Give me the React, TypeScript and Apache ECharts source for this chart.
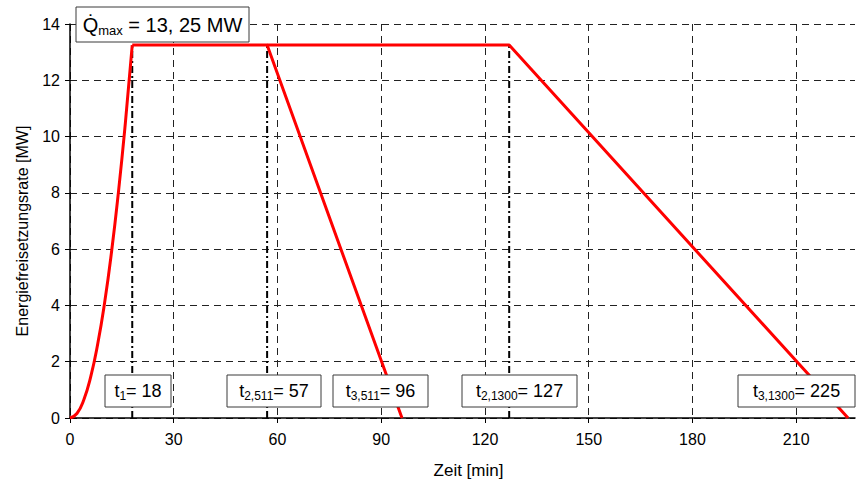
import React, { useEffect, useRef } from "react";
import * as echarts from "echarts";

// Growth phase (t²-type rise) read at 2-minute steps, in MW
const riseTimes = [0, 2, 4, 6, 8, 10, 12, 14, 16, 18];
const riseRates = [0, 0.16, 0.65, 1.47, 2.62, 4.09, 5.89, 8.02, 10.47, 13.25];

// Peak heat release rate and characteristic times [min]
const qMax = 13.25;
const tGrowthEnd = 18;
const tDecay511 = 57;
const tEnd511 = 96;
const tDecay1300 = 127;
const tEnd1300 = 225;

// Axis settings
const xMin = 0;
const xMax = 227;
const xStep = 30;
const yMin = 0;
const yMax = 14;
const yStep = 2;

// Annotation texts
const markerTimes = [tGrowthEnd, tDecay511, tDecay1300];
const timeSubscripts = ["1", "2,511", "3,511", "2,1300", "3,1300"];
const timeValues = [tGrowthEnd, tDecay511, tEnd511, tDecay1300, tEnd1300];

// Box layout (pixels) for the time annotations
const boxLeft = [105, 227, 333, 462, 738];
const boxWidth = [66, 94, 95, 115, 117];

const FONT = "'Liberation Sans', Arial, Helvetica, sans-serif";

function labelBox(x: number, y: number, w: number, h: number, text: string, rich: any) {
  return {
    type: "group",
    z: 100,
    children: [
      {
        type: "rect",
        shape: { x, y, width: w, height: h },
        style: { fill: "#ffffff", stroke: "#3a3a3a", lineWidth: 1 },
        z: 100,
      },
      {
        type: "text",
        x: x + w / 2,
        y: y + h / 2,
        z: 101,
        style: {
          text,
          rich,
          align: "center",
          verticalAlign: "middle",
          fill: "#000",
        },
      },
    ],
  };
}

export default function App() {
  const ref = useRef<HTMLDivElement>(null);

  useEffect(() => {
    if (!ref.current) return;
    const chart = echarts.init(ref.current, undefined, { renderer: "svg" });

    const risePoints = riseTimes.map((t, i) => [t, riseRates[i]]);

    const smallRich = {
      m: { fontSize: 18, fontFamily: FONT, lineHeight: 21, color: "#000" },
      s: { fontSize: 12, fontFamily: FONT, lineHeight: 8, verticalAlign: "bottom", color: "#000" },
    };
    const bigRich = {
      m: { fontSize: 20, fontFamily: FONT, lineHeight: 24, color: "#000" },
      s: { fontSize: 13, fontFamily: FONT, lineHeight: 10, verticalAlign: "bottom", color: "#000" },
    };

    const boxes: any[] = timeValues.map((v, i) =>
      labelBox(
        boxLeft[i],
        375,
        boxWidth[i],
        32,
        `{m|t}{s|${timeSubscripts[i]}}{m|= ${v}}`,
        smallRich
      )
    );
    boxes.push(
      labelBox(76, 7, 173, 35, `{m|Q\u0307}{s|max}{m| = 13, 25 MW}`, bigRich)
    );

    const markerSeries = markerTimes.map((t) => ({
      type: "line",
      data: [
        [t, 0],
        [t, qMax],
      ],
      symbol: "none",
      lineStyle: { color: "#000", width: 2, type: [7, 3, 2, 3] },
      z: 3,
      silent: true,
    }));

    const gridLine = { show: true, lineStyle: { color: "#222", width: 1, type: [7, 5] } };

    chart.setOption({
      animation: false,
      grid: { left: 70, top: 24, right: 1, bottom: 66, containLabel: false },
      xAxis: {
        type: "value",
        min: xMin,
        max: xMax,
        interval: xStep,
        name: "Zeit [min]",
        nameLocation: "middle",
        nameGap: 44,
        nameTextStyle: { fontFamily: FONT, fontSize: 17, color: "#000", padding: [0, 0, 0, 12] },
        axisLine: { show: true, lineStyle: { color: "#000", width: 1.5 } },
        axisTick: { show: true, inside: false, length: 5, lineStyle: { color: "#000" } },
        axisLabel: {
          fontFamily: FONT,
          fontSize: 16,
          color: "#000",
          margin: 13,
          showMaxLabel: false,
          formatter: (v: number) => (v % xStep === 0 ? String(v) : ""),
        },
        splitLine: { ...gridLine, showMaxLine: false },
      },
      yAxis: {
        type: "value",
        min: yMin,
        max: yMax,
        interval: yStep,
        name: "Energiefreisetzungsrate [MW]",
        nameLocation: "middle",
        nameGap: 40,
        nameRotate: 90,
        nameTextStyle: { fontFamily: FONT, fontSize: 16, color: "#000", padding: [0, 20, 0, 0] },
        axisLine: { show: true, lineStyle: { color: "#000", width: 1.5 } },
        axisTick: { show: true, inside: false, length: 5, lineStyle: { color: "#000" } },
        axisLabel: { fontFamily: FONT, fontSize: 16, color: "#000", margin: 10 },
        splitLine: gridLine,
      },
      series: [
        ...markerSeries,
        {
          type: "line",
          data: risePoints,
          smooth: true,
          symbol: "none",
          lineStyle: { color: "#ff0000", width: 3 },
          z: 5,
        },
        {
          type: "line",
          data: [
            [tGrowthEnd, qMax],
            [tDecay511, qMax],
            [tEnd511, 0],
          ],
          symbol: "none",
          lineStyle: { color: "#ff0000", width: 3 },
          z: 5,
        },
        {
          type: "line",
          data: [
            [tDecay511, qMax],
            [tDecay1300, qMax],
            [tEnd1300, 0],
          ],
          symbol: "none",
          lineStyle: { color: "#ff0000", width: 3 },
          z: 5,
        },
      ],
      graphic: boxes,
    });

    return () => chart.dispose();
  }, []);

  return (
    <div
      ref={ref}
      style={{ position: "fixed", left: 0, top: 0, width: 856, height: 484, background: "#fff" }}
    />
  );
}
